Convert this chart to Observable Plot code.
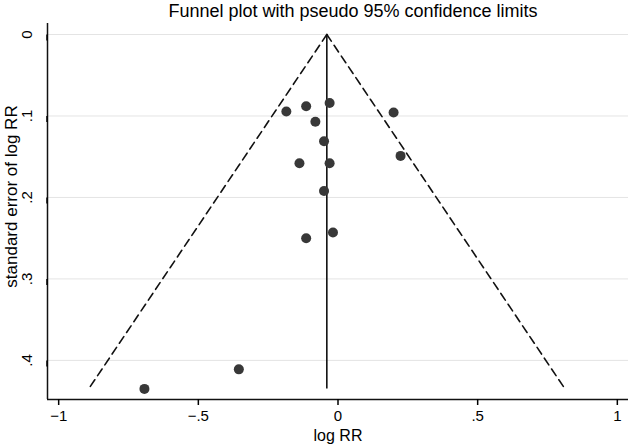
<!DOCTYPE html>
<html>
<head>
<meta charset="utf-8">
<script src="https://cdn.jsdelivr.net/npm/d3@7"></script>
<script src="https://cdn.jsdelivr.net/npm/@observablehq/plot@0.6"></script>
<style>
  html, body { margin: 0; padding: 0; background: #fff; }
  body { width: 630px; height: 445px; overflow: hidden; font-family: "Liberation Sans", Arial, sans-serif; }
  #title { height: 22px; line-height: 22px; font-size: 18px; color: #000; text-align: center; padding-left: 76px; box-sizing: border-box; white-space: nowrap; }
</style>
</head>
<body>
<div id="title"></div>
<div id="chart"></div>
<script>
const titleText = "Funnel plot with pseudo 95% confidence limits";
const xLabel = "log RR";
const yLabel = "standard error of log RR";

// Study estimates (log RR) and their standard errors
const logRR = [-0.185, -0.114, -0.030, 0.199, -0.081, -0.050, -0.138, -0.030, 0.224, -0.050, -0.018, -0.114, -0.355, -0.693];
const seLogRR = [0.0945, 0.088, 0.084, 0.0957, 0.107, 0.131, 0.158, 0.158, 0.149, 0.192, 0.243, 0.250, 0.411, 0.435];

// Pooled estimate (vertical line)
const pooled = [-0.04];

const xTicks = [-1, -0.5, 0, 0.5, 1];
const yTicks = [0, 0.1, 0.2, 0.3, 0.4];
const xDomain = [-1.04, 1.04];
const yDomain = [-0.0135, 0.448];

document.getElementById("title").textContent = titleText;

const studies = logRR.map((x, i) => ({x, se: seLogRR[i]}));
const maxSE = d3.max(seLogRR);
const p = pooled[0];
const leftLimit = [{x: p, se: 0}, {x: p - 1.96 * maxSE, se: maxSE}];
const rightLimit = [{x: p, se: 0}, {x: p + 1.96 * maxSE, se: maxSE}];

const fmt = d => (d < 0 ? "\u2212" : "") + String(Math.abs(d)).replace(/^0\./, ".");

const chart = Plot.plot({
  width: 630,
  height: 423,
  marginLeft: 47,
  marginRight: 2,
  marginTop: 1,
  marginBottom: 46,
  style: {fontFamily: "'Liberation Sans', Arial, sans-serif", fontSize: "15px", color: "#000"},
  x: {domain: xDomain},
  y: {domain: yDomain, reverse: true},
  marks: [
    Plot.gridY(yTicks, {stroke: "#e4e4e4", strokeOpacity: 1, strokeWidth: 1}),
    Plot.ruleX([xDomain[0]], {stroke: "#111", strokeWidth: 1.5}),
    Plot.ruleY([yDomain[1]], {stroke: "#111", strokeWidth: 1.5}),
    Plot.axisX(xTicks, {tickFormat: fmt, tickSize: 6, tickPadding: 5, strokeWidth: 1.5, fontSize: 15, label: null}),
    Plot.axisY(yTicks, {tickFormat: fmt, tickSize: 6, tickPadding: 14, strokeWidth: 1.5, fontSize: 15, rotate: -90, textAnchor: "middle", label: null}),
    Plot.text([xLabel], {frameAnchor: "bottom", dy: 36, fontSize: 16, lineAnchor: "middle"}),
    Plot.text([yLabel], {frameAnchor: "left", dx: -36, dy: -15, rotate: -90, fontSize: 17, textAnchor: "middle"}),
    Plot.line(leftLimit, {x: "x", y: "se", stroke: "#111", strokeWidth: 1.6, strokeDasharray: "8,5"}),
    Plot.line(rightLimit, {x: "x", y: "se", stroke: "#111", strokeWidth: 1.6, strokeDasharray: "8,5"}),
    Plot.ruleX(pooled, {y1: 0, y2: maxSE, stroke: "#111", strokeWidth: 1.6}),
    Plot.dot(studies, {x: "x", y: "se", r: 5, fill: "#383838", stroke: "none"})
  ]
});
document.getElementById("chart").appendChild(chart);
</script>
</body>
</html>
